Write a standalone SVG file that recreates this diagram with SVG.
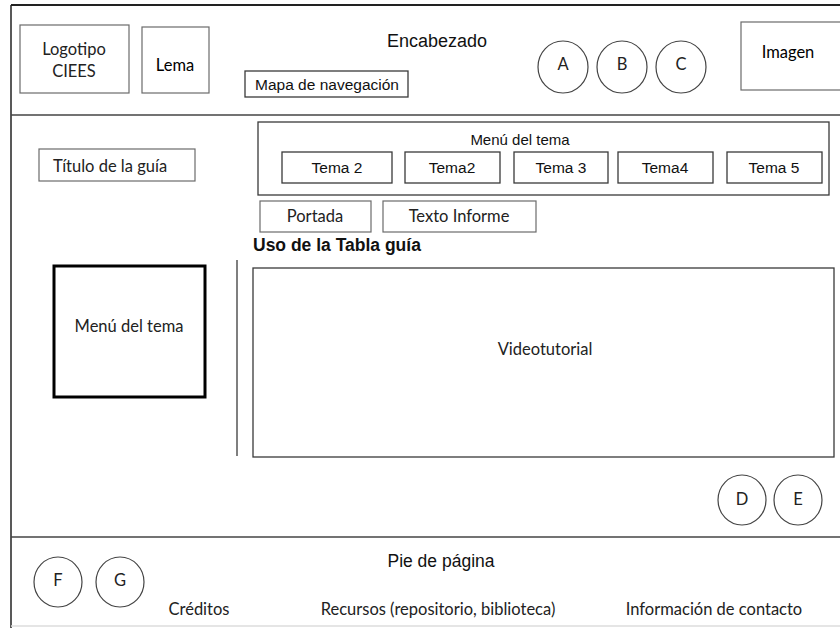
<svg xmlns="http://www.w3.org/2000/svg" width="840" height="628" viewBox="0 0 840 628">
<style>
.frame{stroke:#222;stroke-width:2;fill:none}
.sep{stroke:#444;stroke-width:1.5;fill:none}
.box{fill:#fff;stroke:#6b6b6b;stroke-width:1.2}
.dbox{fill:#fff;stroke:#3a3a3a;stroke-width:1.3}
.circ{fill:#fff;stroke:#444;stroke-width:1.2}
.c{font-family:Lato,"Open Sans",sans-serif;font-size:16.5px;fill:#222;text-anchor:middle}
.a{font-family:"Liberation Sans",Arial,sans-serif;fill:#111;text-anchor:middle}
</style>
<rect width="840" height="628" fill="#fff"/>
<g id="frame">
<line class="frame" x1="11" y1="5" x2="840" y2="5"/>
<line class="frame" x1="11" y1="5" x2="11" y2="628" style="stroke-width:1.5"/>
<line class="sep" x1="11" y1="115" x2="840" y2="115"/>
<line class="sep" x1="11" y1="537" x2="840" y2="537"/>
<line x1="11" y1="626" x2="840" y2="626" stroke="#ddd" stroke-width="1.5"/>
</g>
<g id="logotipo"><rect class="box" x="20" y="25" width="109" height="68"/><text class="c" x="74" y="55">Logotipo</text><text class="c" x="74" y="77">CIEES</text></g>
<g id="lema"><rect class="box" x="142" y="27" width="67" height="66"/><text class="c" x="175" y="71" style="fill:#000">Lema</text></g>
<g id="encabezado"><text class="a" x="437" y="47" font-size="18">Encabezado</text></g>
<g id="mapa"><rect class="dbox" x="245" y="71" width="163" height="26"/><text class="a" x="327" y="90" font-size="15.5">Mapa de navegación</text></g>
<g id="A"><ellipse class="circ" cx="563" cy="67" rx="25" ry="26"/><text class="c" x="563" y="70">A</text></g>
<g id="B"><ellipse class="circ" cx="622" cy="67" rx="25" ry="26"/><text class="c" x="622" y="70">B</text></g>
<g id="C"><ellipse class="circ" cx="681" cy="67" rx="25" ry="26"/><text class="c" x="681" y="70">C</text></g>
<g id="imagen"><rect class="box" x="741" y="22" width="110" height="68"/><text class="c" x="788" y="58" style="fill:#000">Imagen</text></g>
<g id="titulo"><rect class="box" x="39" y="149" width="156" height="32"/><text class="c" x="53" y="172" style="text-anchor:start">Título de la guía</text></g>
<g id="menu-tema-top"><rect class="dbox" x="258" y="122" width="571" height="73"/><text class="a" x="520" y="145" font-size="15">Menú del tema</text></g>
<g id="tema2a"><rect class="dbox" x="282" y="152" width="110" height="31"/><text class="a" x="337" y="173" font-size="15.5">Tema 2</text></g>
<g id="tema2b"><rect class="dbox" x="405" y="152" width="95" height="31"/><text class="a" x="452" y="173" font-size="15.5">Tema2</text></g>
<g id="tema3"><rect class="dbox" x="514" y="152" width="94" height="31"/><text class="a" x="561" y="173" font-size="15.5">Tema 3</text></g>
<g id="tema4"><rect class="dbox" x="618" y="152" width="95" height="31"/><text class="a" x="665" y="173" font-size="15.5">Tema4</text></g>
<g id="tema5"><rect class="dbox" x="727" y="152" width="95" height="31"/><text class="a" x="774" y="173" font-size="15.5">Tema 5</text></g>
<g id="portada"><rect class="box" x="260" y="201" width="111" height="31"/><text class="c" x="315" y="222">Portada</text></g>
<g id="texto-informe"><rect class="box" x="383" y="201" width="153" height="31"/><text class="c" x="459" y="222">Texto Informe</text></g>
<g id="uso"><text class="a" x="253" y="251" font-size="17.5" font-weight="bold" style="text-anchor:start">Uso de la Tabla guía</text></g>
<g id="menu-tema-left"><rect x="54" y="266" width="151" height="131" fill="#fff" stroke="#000" stroke-width="3"/><text class="c" x="129" y="332">Menú del tema</text></g>
<g id="divider"><line x1="237" y1="260" x2="237" y2="456" stroke="#555" stroke-width="1.5"/></g>
<g id="videotutorial"><rect class="dbox" x="253" y="268" width="581" height="189"/><text class="c" x="545" y="355">Videotutorial</text></g>
<g id="D"><ellipse class="circ" cx="742" cy="500" rx="24" ry="25"/><text class="c" x="742" y="505">D</text></g>
<g id="E"><ellipse class="circ" cx="798" cy="500" rx="24" ry="25"/><text class="c" x="798" y="505">E</text></g>
<g id="pie"><text class="a" x="441" y="567" font-size="17.5">Pie de página</text></g>
<g id="F"><ellipse class="circ" cx="58" cy="582" rx="24" ry="25"/><text class="c" x="58" y="586">F</text></g>
<g id="G"><ellipse class="circ" cx="120" cy="582" rx="24" ry="25"/><text class="c" x="120" y="586">G</text></g>
<g id="creditos"><text class="c" x="199" y="615">Créditos</text></g>
<g id="recursos"><text class="c" x="438" y="615">Recursos (repositorio, biblioteca)</text></g>
<g id="contacto"><text class="c" x="714" y="615">Información de contacto</text></g>
</svg>
